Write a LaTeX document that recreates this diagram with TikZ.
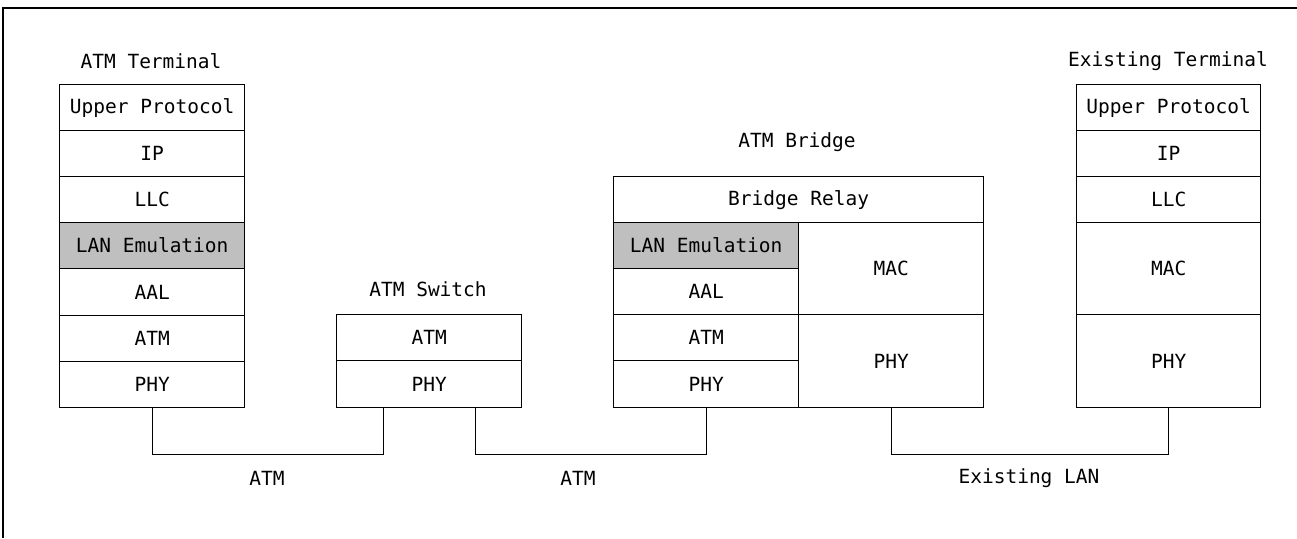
\documentclass[tikz,border=0pt]{standalone}
\usepackage{fontspec}
\newfontfamily\diagfont{DejaVu Sans Mono}
\usetikzlibrary{calc}
\definecolor{lanGray}{RGB}{191,191,191}
\tikzset{
  cell/.style={draw=black, line width=1.3pt, rectangle, inner sep=0pt, anchor=north west, font=\diagfont\fontsize{19.5}{22}\selectfont},
  emu/.style={cell, fill=lanGray},
  title/.style={font=\diagfont\fontsize{19.5}{22}\selectfont, inner sep=0pt},
  link/.style={draw=black, line width=1.3pt}
}
\begin{document}
\begin{tikzpicture}[x=1pt,y=-1pt]
\useasboundingbox (0,0) rectangle (1297,538);
% frame
\draw[line width=2.5pt] (3,538) -- (3,8) -- (1297,8);

% ATM Terminal
\node[title] (ttitle) at (151,61) {ATM Terminal};
\node[cell, minimum width=185pt, minimum height=46pt] (tup) at (59,84) {Upper Protocol};
\node[cell, minimum width=185pt, minimum height=46pt] (tip) at (59,130) {IP};
\node[cell, minimum width=185pt, minimum height=46pt] (tllc) at (59,176) {LLC};
\node[emu, minimum width=185pt, minimum height=46pt] (tlane) at (59,222) {LAN Emulation};
\node[cell, minimum width=185pt, minimum height=47pt] (taal) at (59,268) {AAL};
\node[cell, minimum width=185pt, minimum height=46pt] (tatm) at (59,315) {ATM};
\node[cell, minimum width=185pt, minimum height=46pt] (tphy) at (59,361) {PHY};

% ATM Switch
\node[title] (stitle) at (428,289) {ATM Switch};
\node[cell, minimum width=185pt, minimum height=46pt] (satm) at (336,314) {ATM};
\node[cell, minimum width=185pt, minimum height=47pt] (sphy) at (336,360) {PHY};

% ATM Bridge
\node[title] (btitle) at (797,142) {ATM Bridge};
\node[cell, minimum width=370pt, minimum height=46pt] (brelay) at (613,176) {Bridge Relay};
\node[emu, minimum width=185pt, minimum height=46pt] (blane) at (613,222) {LAN Emulation};
\node[cell, minimum width=185pt, minimum height=46pt] (baal) at (613,268) {AAL};
\node[cell, minimum width=185pt, minimum height=46pt] (batm) at (613,314) {ATM};
\node[cell, minimum width=185pt, minimum height=47pt] (bphy) at (613,360) {PHY};
\node[cell, minimum width=185pt, minimum height=92pt] (bmac) at (798,222) {MAC};
\node[cell, minimum width=185pt, minimum height=93pt] (bphy2) at (798,314) {PHY};

% Existing Terminal
\node[title] (etitle) at (1168,61) {Existing Terminal};
\node[cell, minimum width=184pt, minimum height=46pt] (eup) at (1076,84) {Upper Protocol};
\node[cell, minimum width=184pt, minimum height=46pt] (eip) at (1076,130) {IP};
\node[cell, minimum width=184pt, minimum height=46pt] (ellc) at (1076,176) {LLC};
\node[cell, minimum width=184pt, minimum height=92pt] (emac) at (1076,222) {MAC};
\node[cell, minimum width=184pt, minimum height=93pt] (ephy) at (1076,314) {PHY};

% links
\coordinate (s1) at ($(sphy.south west)!0.254!(sphy.south east)$);
\coordinate (s2) at ($(sphy.south west)!0.75!(sphy.south east)$);
\draw[link] (tphy.south) -- ++(0,46) -| (s1);
\draw[link] (s2) -- ++(0,46) -| (bphy.south);
\draw[link] (bphy2.south) -- ++(0,46) -| (ephy.south);

\node[title] (l1) at (267,478) {ATM};
\node[title] (l2) at (578,478) {ATM};
\node[title] (l3) at (1029,478) {Existing LAN};
\end{tikzpicture}
\end{document}
